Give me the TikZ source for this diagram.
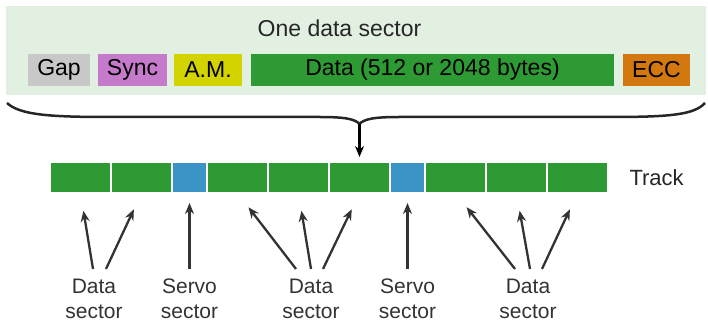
\documentclass[tikz,border=0pt]{standalone}
\usepackage{fontspec}
\setmainfont{Liberation Sans}
\usetikzlibrary{arrows.meta,positioning}
\definecolor{bggreen}{HTML}{E2F0E2}
\definecolor{secgreen}{HTML}{2E9A34}
\definecolor{servoblue}{HTML}{3B93C6}
\definecolor{gapgray}{HTML}{C8C8C8}
\definecolor{syncviolet}{HTML}{C67ACB}
\definecolor{amyellow}{HTML}{D3D300}
\definecolor{eccorange}{HTML}{D2780E}
\definecolor{inkgray}{HTML}{333333}
\newcommand{\bigtxt}{\fontsize{23}{27}\selectfont}
\newcommand{\labtxt}{\fontsize{21}{25}\selectfont}

\begin{document}
\begin{tikzpicture}[
  x=1pt, y=1pt,
  field/.style={minimum height=32pt, inner sep=0pt, text=black,
                font=\bigtxt},
  trk/.style={draw=white, line width=1.5pt, outer sep=0pt,
              minimum height=31pt, inner sep=0pt},
  dsec/.style={trk, fill=secgreen, minimum width=61pt},
  ssec/.style={trk, fill=servoblue, minimum width=35pt},
  lab/.style={align=center, font=\labtxt, text=inkgray, inner ysep=8pt},
  arr/.style={-{Stealth[length=11pt, width=9pt]}, line width=2.3pt,
              inkgray}
]
\useasboundingbox (0,0) rectangle (708,324);
% sector format
\fill[bggreen] (6,229) rectangle (706,318);
\node[font=\bigtxt, text=black!85] (title) at (339.5,296) {One data sector};
\node[field, fill=gapgray, minimum width=62pt] (gap) at (59,254) {Gap};
\node[field, fill=syncviolet, minimum width=69pt] (sync) at (132.5,254) {Sync};
\node[field, fill=amyellow, minimum width=68pt] (am) at (208,254) {A.M.};
\node[field, fill=secgreen, minimum width=363pt] (data) at (432.5,254)
  {Data (512 or 2048 bytes)};
\node[field, fill=eccorange, minimum width=67pt] (ecc) at (656.5,254) {ECC};
% brace
\coordinate (bracetip) at (359.5,200);
\draw[line width=2.5pt, black!85]
  (7,221) .. controls (20,209) and (50,207) .. (110,207) -- (320,207)
  .. controls (345,207) and (355,205) .. (bracetip)
  .. controls (364,205) and (374,207) .. (399,207) -- (609,207)
  .. controls (669,207) and (694,209) .. (705,221);
% track
\node[dsec] (d1) at (80.5,146.5) {};
\node[dsec, right=0pt of d1] (d2) {};
\node[ssec, right=0pt of d2] (s1) {};
\node[dsec, right=0pt of s1] (d3) {};
\node[dsec, right=0pt of d3] (d4) {};
\node[dsec, right=0pt of d4] (d5) {};
\node[ssec, right=0pt of d5] (s2) {};
\node[dsec, right=0pt of s2] (d6) {};
\node[dsec, right=0pt of d6] (d7) {};
\node[dsec, right=0pt of d7] (d8) {};
\node[font=\fontsize{22}{26}\selectfont, text=black!85, right=18pt of d8]
  (track) {Track};
\draw[-{Stealth[length=11pt, width=9pt]}, line width=2.3pt, black,
  shorten >=5pt] (bracetip) -- (d5.north);
% labels
\node[lab] (l1) at (94,25) {Data\\sector};
\node[lab] (l2) at (189.5,25) {Servo\\sector};
\node[lab] (l3) at (311,25) {Data\\sector};
\node[lab] (l4) at (407.5,25) {Servo\\sector};
\node[lab] (l5) at (528,25) {Data\\sector};
\draw[arr, shorten >=18pt] ([xshift=-1pt,yshift=2pt]l1.north) -- (d1.south);
\draw[arr, shorten >=18pt] ([xshift=12pt,yshift=2pt]l1.north) -- (d2.south);
\draw[arr, shorten >=10pt] ([yshift=2pt]l2.north) -- (s1.south);
\draw[arr, shorten >=18pt] ([xshift=-15pt,yshift=2pt]l3.north) -- (d3.south);
\draw[arr, shorten >=18pt] ([yshift=2pt]l3.north) -- (d4.south);
\draw[arr, shorten >=18pt] ([xshift=12pt,yshift=2pt]l3.north) -- (d5.south);
\draw[arr, shorten >=10pt] ([yshift=2pt]l4.north) -- (s2.south);
\draw[arr, shorten >=18pt] ([xshift=-13pt,yshift=2pt]l5.north) -- (d6.south);
\draw[arr, shorten >=18pt] ([xshift=2pt,yshift=2pt]l5.north) -- (d7.south);
\draw[arr, shorten >=18pt] ([xshift=14pt,yshift=2pt]l5.north) -- (d8.south);
\end{tikzpicture}
\end{document}
